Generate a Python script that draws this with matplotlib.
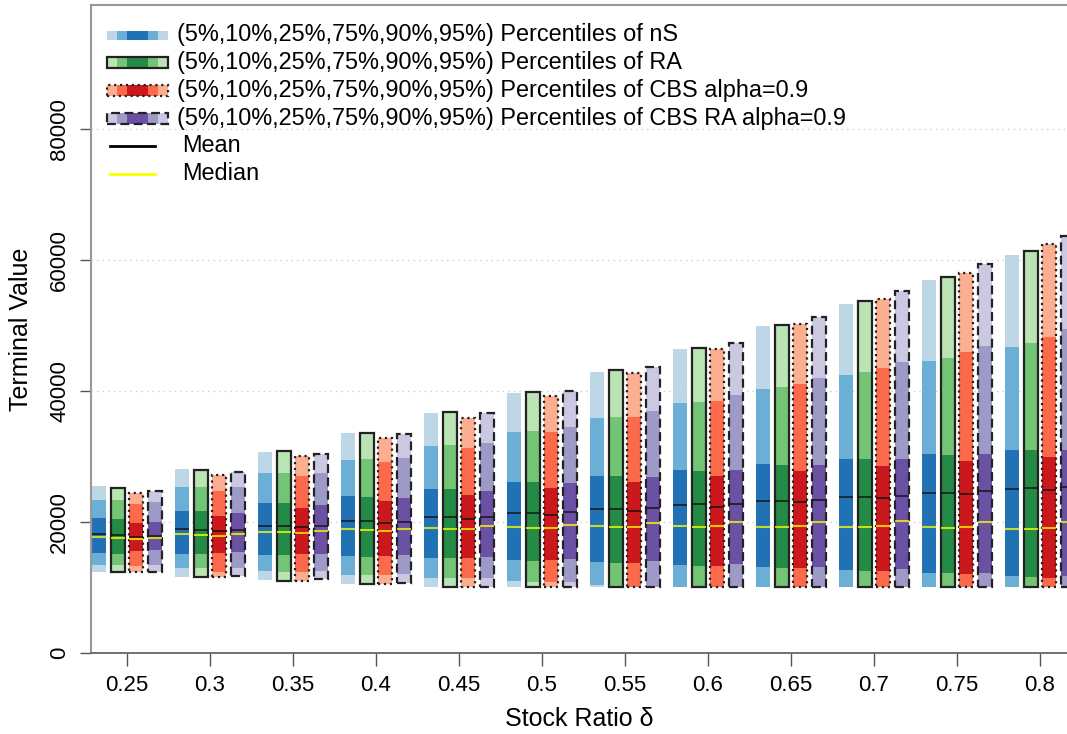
import numpy as np
import matplotlib
matplotlib.use("Agg")
import matplotlib.pyplot as plt
from matplotlib.patches import Rectangle

plt.rcParams['font.family'] = ['Liberation Sans', 'DejaVu Sans']

# --- data ---
ratios = [0.25, 0.3, 0.35, 0.4, 0.45, 0.5, 0.55, 0.6, 0.65, 0.7, 0.75, 0.8]
tick_labels = ['0.25', '0.3', '0.35', '0.4', '0.45', '0.5', '0.55', '0.6', '0.65', '0.7', '0.75', '0.8']

ns_p5 = [12320, 11650, 11150, 10530, 10000, 10000, 10000, 10000, 10000, 10000, 10000, 10000]
ns_p10 = [13390, 12930, 12520, 11950, 11400, 10990, 10380, 10000, 10000, 10000, 10000, 10000]
ns_p25 = [15220, 15110, 14960, 14860, 14550, 14200, 13840, 13430, 13080, 12670, 12160, 11760]
ns_p75 = [20560, 21730, 22950, 23970, 25040, 26060, 27070, 27940, 28850, 29620, 30330, 30990]
ns_p90 = [23400, 25390, 27430, 29460, 31650, 33790, 35930, 38110, 40260, 42440, 44580, 46770]
ns_p95 = [25500, 28040, 30740, 33540, 36590, 39740, 42950, 46360, 49870, 53280, 56950, 60760]
ns_mean = [18120, 18880, 19440, 20150, 20760, 21320, 21940, 22600, 23210, 23770, 24380, 25040]
ns_median = [17660, 18120, 18520, 18880, 19040, 19190, 19340, 19390, 19290, 19290, 19190, 18930]

ra_p5 = [12320, 11650, 11040, 10480, 10000, 10000, 10000, 10000, 10000, 10000, 10000, 10000]
ra_p10 = [13390, 12930, 12410, 11910, 11400, 10890, 10120, 10000, 10000, 10000, 10000, 10000]
ra_p25 = [15110, 15070, 14960, 14710, 14450, 14100, 13790, 13330, 12930, 12570, 12160, 11550]
ra_p75 = [20460, 21680, 22850, 23870, 24990, 26060, 27020, 27840, 28700, 29570, 30230, 30990]
ra_p90 = [23360, 25390, 27530, 29570, 31760, 33940, 36080, 38370, 40560, 42850, 45090, 47280]
ra_p95 = [25240, 27940, 30840, 33640, 36740, 39900, 43210, 46510, 50080, 53790, 57450, 61370]
ra_mean = [18020, 18780, 19390, 20150, 20760, 21320, 22030, 22700, 23260, 23870, 24480, 25140]
ra_median = [17600, 18020, 18470, 18780, 18930, 19140, 19290, 19290, 19190, 19190, 19040, 18880]

cbs_p5 = [12320, 11650, 11040, 10530, 10000, 10000, 10000, 10000, 10000, 10000, 10000, 10000]
cbs_p10 = [13280, 12320, 12410, 11910, 11400, 10890, 10000, 10000, 10000, 10000, 10000, 10000]
cbs_p25 = [15570, 15220, 15070, 14810, 14500, 14200, 13790, 13330, 12930, 12520, 12060, 11400]
cbs_p75 = [19850, 20960, 22090, 23200, 24170, 25140, 26160, 27070, 27840, 28550, 29310, 29870]
cbs_p90 = [22750, 24780, 27020, 29210, 31350, 33690, 36080, 38520, 41070, 43460, 45900, 48290]
cbs_p95 = [24470, 27180, 30080, 32870, 35930, 39240, 42800, 46360, 50230, 54050, 58070, 62390]
cbs_mean = [17760, 18580, 19190, 19800, 20460, 21070, 21730, 22340, 23000, 23610, 24220, 24890]
cbs_median = [17350, 17810, 18270, 18630, 18880, 19140, 19290, 19390, 19340, 19390, 19290, 19040]

cbsra_p5 = [12320, 11750, 11250, 10640, 10000, 10000, 10000, 10000, 10000, 10000, 10000, 10000]
cbsra_p10 = [13390, 12930, 12570, 12060, 11400, 10890, 10000, 10000, 10000, 10000, 10000, 10000]
cbsra_p25 = [15670, 15370, 15110, 14960, 14610, 14300, 14050, 13540, 13180, 12770, 12260, 11760]
cbsra_p75 = [20050, 21320, 22600, 23710, 24780, 25900, 26920, 27940, 28700, 29620, 30330, 30990]
cbsra_p90 = [23100, 25290, 27430, 29720, 32110, 34550, 36990, 39390, 41940, 44430, 46870, 49420]
cbsra_p95 = [24800, 27580, 30380, 33430, 36690, 40050, 43720, 47380, 51350, 55270, 59340, 63720]
cbsra_mean = [17910, 18780, 19390, 20050, 20810, 21480, 22140, 22750, 23360, 24020, 24730, 25390]
cbsra_median = [17510, 18120, 18680, 18930, 19340, 19590, 19890, 20050, 20050, 20150, 20050, 20050]

series = [
    ("nS", [ns_p5, ns_p10, ns_p25, ns_p75, ns_p90, ns_p95], ns_mean, ns_median,
     ['#bdd7e7', '#6baed6', '#2171b5'], None),
    ("RA", [ra_p5, ra_p10, ra_p25, ra_p75, ra_p90, ra_p95], ra_mean, ra_median,
     ['#bae4b3', '#74c476', '#238b45'], '-'),
    ("CBS alpha=0.9", [cbs_p5, cbs_p10, cbs_p25, cbs_p75, cbs_p90, cbs_p95], cbs_mean, cbs_median,
     ['#fcae91', '#fb6a4a', '#cb181d'], ':'),
    ("CBS RA alpha=0.9", [cbsra_p5, cbsra_p10, cbsra_p25, cbsra_p75, cbsra_p90, cbsra_p95], cbsra_mean, cbsra_median,
     ['#cbc9e2', '#9e9ac8', '#6a51a3'], (0, (4, 2))),
]

# --- figure ---
fig = plt.figure(figsize=(10.67, 7.34), dpi=100)
ax = fig.add_axes([91 / 1067, 81 / 734, 976 / 1067, 648 / 734])

x = np.array(ratios)
bw = 0.0084
step = 0.01114
offsets = [-1.5, -0.5, 0.5, 1.5]

for k, (name, pct, mean, median, cols, ls) in enumerate(series):
    xs = x + offsets[k] * step
    p = [np.array(v) for v in pct]
    seg_cols = [cols[0], cols[1], cols[2], cols[1], cols[0]]
    for j in range(5):
        ax.bar(xs, p[j + 1] - p[j], bottom=p[j], width=bw, color=seg_cols[j],
               edgecolor='none', linewidth=0, zorder=2)
    if ls is not None:
        ax.bar(xs, p[5] - p[0], bottom=p[0], width=bw, fill=False,
               edgecolor='#222222', linewidth=1.6, linestyle=ls, zorder=3)
    ax.hlines(mean, xs - bw / 2, xs + bw / 2, color='#111111', alpha=0.8, lw=1.3, zorder=4)
    ax.hlines(median, xs - bw / 2, xs + bw / 2, color='yellow', alpha=0.75, lw=1.5, zorder=4)

ax.set_xlim(0.2283, 0.8163)
ax.set_ylim(0, 98930)
ax.set_xticks(ratios)
ax.set_xticklabels(tick_labels)
yt = [0, 20000, 40000, 60000, 80000]
ax.set_yticks(yt)
ax.set_yticklabels([str(v) for v in yt], rotation=90, va='center')
ax.tick_params(axis='both', labelsize=16, colors='#555555', labelcolor='black')
ax.tick_params(axis='x', length=9, width=1, pad=7)
ax.tick_params(axis='y', length=8, width=1, pad=7)

ax.yaxis.grid(True, linestyle=(0, (1, 3)), color='#cccccc', lw=1)
ax.set_axisbelow(True)
ax.spines['right'].set_visible(False)
ax.spines['bottom'].set_color('#666666')
ax.spines['bottom'].set_linestyle((0, (1, 1)))
ax.spines['bottom'].set_linewidth(1.3)
for s in ['left', 'top']:
    ax.spines[s].set_color('#999999')
    ax.spines[s].set_linewidth(1.5)

ax.set_ylabel("Terminal Value", fontsize=18)
ax.yaxis.set_label_coords(-0.059, 0.5)
ax.set_xlabel("Stock Ratio \u03b4", fontsize=18)
ax.xaxis.set_label_coords(0.5, -0.083)

# --- legend, drawn by hand in axes fractions ---
def fx(px):
    return (px - 91) / 976

def fy(py):
    return (653 - py) / 648

row_y = [35, 62, 90, 118, 146, 174]
seg_w = [10, 10, 21, 10, 10]
for k, (name, pct, mean, median, cols, ls) in enumerate(series):
    yc = row_y[k]
    h = 9 if ls is None else 11
    seg_cols = [cols[0], cols[1], cols[2], cols[1], cols[0]]
    x0 = 107
    for j in range(5):
        ax.add_patch(Rectangle((fx(x0), fy(yc + h / 2)), seg_w[j] / 976, h / 648,
                               transform=ax.transAxes, facecolor=seg_cols[j],
                               edgecolor='none', clip_on=False, zorder=5))
        x0 += seg_w[j]
    if ls is not None:
        ax.add_patch(Rectangle((fx(107), fy(yc + h / 2)), 61 / 976, h / 648,
                               transform=ax.transAxes, fill=False, edgecolor='#222222',
                               lw=1.6, linestyle=ls, clip_on=False, zorder=6))
    ax.text(fx(177), fy(yc), "(5%,10%,25%,75%,90%,95%) Percentiles of " + name,
            transform=ax.transAxes, fontsize=16.9, va='center', ha='left')

for k, (lab, col) in enumerate([("Mean", 'black'), ("Median", 'yellow')]):
    yc = row_y[4 + k]
    ax.plot([fx(110), fx(155)], [fy(yc), fy(yc)], transform=ax.transAxes,
            color=col, lw=2, clip_on=False)
    ax.text(fx(182), fy(yc), lab, transform=ax.transAxes, fontsize=16.9,
            va='center', ha='left')

fig.savefig("out.png", dpi=100)
